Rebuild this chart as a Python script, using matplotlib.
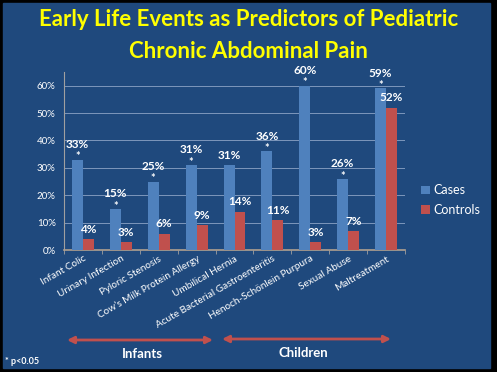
import matplotlib.pyplot as plt
import matplotlib.patches as mpatches
import numpy as np

categories = ["Infant Colic", "Urinary Infection", "Pyloric Stenosis",
              "Cow\u2019s Milk Protein Allergy", "Umbilical Hernia",
              "Acute Bacterial Gastroenteritis", "Henoch-Sch\u00f6nlein Purpura",
              "Sexual Abuse", "Maltreatment"]
cases = [33, 15, 25, 31, 31, 36, 60, 26, 59]
controls = [4, 3, 6, 9, 14, 11, 3, 7, 52]
significant = [True, True, True, True, False, True, True, True, True]

BG = "#1f497d"
BLUE = "#4f81bd"
RED = "#c0504d"
FONT = ["Lato", "DejaVu Sans"]
plt.rcParams["font.family"] = FONT

W, H = 497, 372
fig = plt.figure(figsize=(W / 100, H / 100), dpi=100, facecolor="black")
fig.patches.append(mpatches.Rectangle((3 / W, 4 / H), 487 / W, 365 / H,
                                      transform=fig.transFigure, color=BG, zorder=-5))

fig.text(0.5, 1 - 20 / H, "Early Life Events as Predictors of Pediatric",
         ha="center", va="center", color="#ffff00", fontsize=16, fontweight="bold")
fig.text(0.5, 1 - 52 / H, "Chronic Abdominal Pain",
         ha="center", va="center", color="#ffff00", fontsize=16, fontweight="bold")

ax = fig.add_axes([64 / W, (H - 250) / H, 341 / W, 178 / H])
ax.set_facecolor("none")
ax.set_zorder(2)
x = np.arange(len(categories))
w = 0.29
bc = ax.bar(x - w / 2, cases, w, color=BLUE, label="Cases", zorder=3)
br = ax.bar(x + w / 2, controls, w, color=RED, label="Controls", zorder=3)

ax.set_xlim(-0.5, len(categories) - 0.5)
ax.set_ylim(0, 65)
ax.set_yticks(range(0, 61, 10))
ax.set_yticklabels([f"{v}%" for v in range(0, 61, 10)], color="white", fontsize=7)
ax.yaxis.grid(True, color="#7d97bb", linewidth=0.7, zorder=0)
ax.tick_params(axis="y", length=0, pad=6)
ax.set_xticks(np.arange(len(categories) + 1) - 0.5, minor=True)
ax.tick_params(axis="x", which="minor", length=3, color="#a0a0a0")
ax.set_xticks(x)
ax.set_xticklabels(categories, rotation=30, ha="right", rotation_mode="anchor",
                   color="white", fontsize=7.2)
ax.tick_params(axis="x", which="major", length=0, pad=3)
for s in ["top", "right"]:
    ax.spines[s].set_visible(False)
ax.spines["left"].set_color("#a0a0a0")
ax.spines["bottom"].set_color("#b0a090")
ax.spines["bottom"].set_linewidth(1.2)

for i in range(len(categories)):
    xc = x[i] - w / 2
    if significant[i]:
        ax.annotate("*", (xc, cases[i]), xytext=(0, -2), textcoords="offset points",
                    ha="center", va="bottom", color="white", fontsize=8, fontweight="bold")
        off = 7
    else:
        off = 3
    ax.annotate(f"{cases[i]}%", (xc, cases[i]), xytext=(0, off), textcoords="offset points",
                ha="center", va="bottom", color="white", fontsize=8.5, fontweight="bold")
    ax.annotate(f"{controls[i]}%", (x[i] + w / 2, controls[i]), xytext=(0, 3),
                textcoords="offset points", ha="center", va="bottom", color="white",
                fontsize=8.5, fontweight="bold")

leg = fig.legend(handles=[bc, br], loc="center left", bbox_to_anchor=(410 / W, 1 - 200 / H),
                 frameon=False, fontsize=9, handlelength=0.7, handleheight=0.7,
                 handletextpad=0.3, labelspacing=0.6)
for t in leg.get_texts():
    t.set_color("white")

arrow_kw = dict(arrowstyle="<|-|>", color=RED, lw=2, mutation_scale=10,
                shrinkA=0, shrinkB=0)
fig.add_artist(mpatches.FancyArrowPatch((67 / W, 1 - 340 / H), (213 / W, 1 - 340 / H),
                                        transform=fig.transFigure, **arrow_kw))
fig.add_artist(mpatches.FancyArrowPatch((222 / W, 1 - 339 / H), (391 / W, 1 - 339 / H),
                                        transform=fig.transFigure, **arrow_kw))
fig.text(142 / W, 1 - 354 / H, "Infants", ha="center", va="center", color="white",
         fontsize=9.5, fontweight="bold")
fig.text(303 / W, 1 - 353 / H, "Children", ha="center", va="center", color="white",
         fontsize=9.5, fontweight="bold")
fig.text(5 / W, 1 - 362 / H, "* p<0.05", ha="left", va="center", color="white",
         fontsize=6.5, fontweight="bold")

fig.savefig("out.png", dpi=100, facecolor="black")
